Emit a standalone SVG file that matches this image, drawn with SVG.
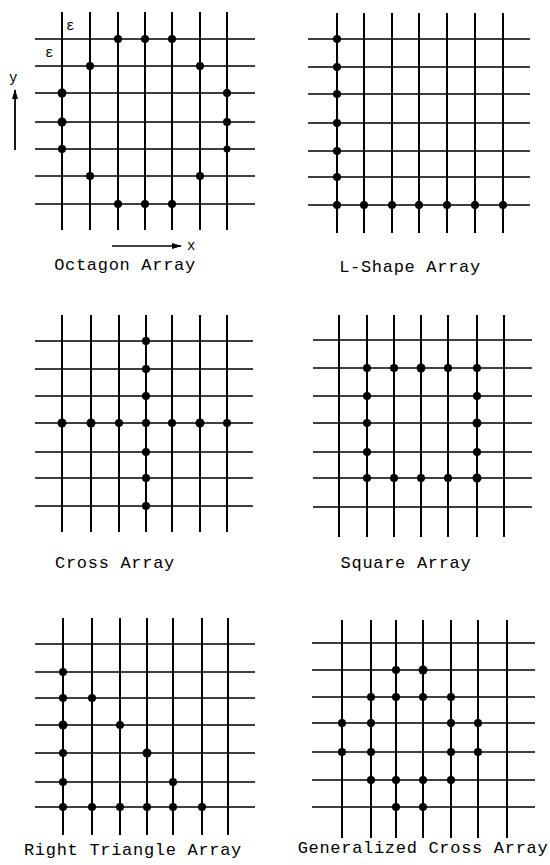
<svg xmlns="http://www.w3.org/2000/svg" width="550" height="865" viewBox="0 0 550 865">
<style>
.v{stroke:#000;stroke-width:2;fill:none}
.h{stroke:#000;stroke-width:1.6;fill:none}
.d{fill:#000}
.lbl{font-family:"Liberation Mono",monospace;font-size:17px;letter-spacing:0.7px;fill:#000;text-anchor:middle}
.sm{font-family:"Liberation Mono",monospace;font-size:14px;fill:#000}
</style>
<defs>
<marker id="ah" viewBox="0 0 10 6" refX="9" refY="3" markerWidth="10" markerHeight="6" markerUnits="userSpaceOnUse" orient="auto">
<path d="M0,0 L10,3 L0,6 z" fill="#000"/>
</marker>
</defs>
<rect width="550" height="865" fill="#fff"/>

<g id="octagon">
<path class="v" d="M62,12V230M90,12V230M118,12V230M145,12V230M172,12V230M200,12V230M227,12V230"/>
<path class="h" d="M35,39H255M35,66H255M35,93H255M35,122H255M35,149H255M35,176H255M35,204H255"/>
<g class="d">
<circle cx="118" cy="39" r="4"/><circle cx="145" cy="39" r="4"/><circle cx="172" cy="39" r="4"/>
<circle cx="90" cy="66" r="4"/><circle cx="200" cy="66" r="4"/>
<circle cx="62" cy="93" r="4.5"/><circle cx="227" cy="93" r="4"/>
<circle cx="62" cy="122" r="4.5"/><circle cx="227" cy="122" r="4"/>
<circle cx="62" cy="149" r="4"/><circle cx="227" cy="149" r="3.5"/>
<circle cx="90" cy="176" r="4"/><circle cx="200" cy="176" r="4"/>
<circle cx="118" cy="204" r="4"/><circle cx="145" cy="204" r="4"/><circle cx="172" cy="204" r="4"/>
</g>
<text class="sm" x="66" y="30">ε</text>
<text class="sm" x="45" y="57">ε</text>
<text class="sm" x="9" y="82">y</text>
<text class="sm" x="187" y="250">x</text>
<text class="lbl" x="125" y="270">Octagon Array</text>
</g>

<g id="lshape">
<path class="v" d="M337,13V233M364,13V233M392,13V233M419,13V233M447,13V233M475,13V233M503,13V233"/>
<path class="h" d="M308,39H530M308,67H530M308,94H530M308,123H530M308,151H530M308,177H530M308,205H530"/>
<g class="d">
<circle cx="337" cy="39" r="4"/><circle cx="337" cy="67" r="4"/><circle cx="337" cy="94" r="4"/>
<circle cx="337" cy="123" r="4"/><circle cx="337" cy="151" r="4"/><circle cx="337" cy="177" r="4"/>
<circle cx="337" cy="205" r="4"/><circle cx="364" cy="205" r="4"/><circle cx="392" cy="205" r="4"/>
<circle cx="419" cy="205" r="4"/><circle cx="447" cy="205" r="4"/><circle cx="475" cy="205" r="4"/>
<circle cx="503" cy="205" r="4"/>
</g>
<text class="lbl" x="410" y="272">L-Shape Array</text>
</g>

<g id="cross">
<path class="v" d="M62,315V532M91,315V532M119,315V532M146,315V532M172,315V532M200,315V532M227,315V532"/>
<path class="h" d="M35,341H253M35,369H253M35,396H253M35,423H253M35,452H253M35,478H253M35,506H253"/>
<g class="d">
<circle cx="146" cy="341" r="4"/><circle cx="146" cy="369" r="4"/><circle cx="146" cy="396" r="4"/>
<circle cx="146" cy="423" r="4"/><circle cx="146" cy="452" r="4"/><circle cx="146" cy="478" r="4"/>
<circle cx="146" cy="506" r="4"/>
<circle cx="62" cy="423" r="4.5"/><circle cx="91" cy="423" r="4.5"/><circle cx="119" cy="423" r="4"/>
<circle cx="172" cy="423" r="4"/><circle cx="200" cy="423" r="4.5"/><circle cx="227" cy="423" r="4"/>
</g>
<text class="lbl" x="115" y="568">Cross Array</text>
</g>

<g id="square">
<path class="v" d="M339,315V537M367,315V537M394,315V537M421,315V537M448,315V537M477,315V537M504,315V537"/>
<path class="h" d="M313,340H532M313,368H532M313,396H532M313,423H532M313,452H532M313,478H532M313,507H532"/>
<g class="d">
<circle cx="367" cy="368" r="4"/><circle cx="394" cy="368" r="4"/><circle cx="421" cy="368" r="4.5"/>
<circle cx="448" cy="368" r="4"/><circle cx="477" cy="368" r="4"/>
<circle cx="367" cy="396" r="4"/><circle cx="477" cy="396" r="4"/>
<circle cx="367" cy="423" r="4"/><circle cx="477" cy="423" r="4.5"/>
<circle cx="367" cy="452" r="4"/><circle cx="477" cy="452" r="4"/>
<circle cx="367" cy="478" r="4"/><circle cx="394" cy="478" r="4"/><circle cx="421" cy="478" r="4"/>
<circle cx="448" cy="478" r="4"/><circle cx="477" cy="478" r="4.5"/>
</g>
<text class="lbl" x="406" y="568">Square Array</text>
</g>

<g id="righttriangle">
<path class="v" d="M63,618V835M92,618V835M120,618V835M147,618V835M173,618V835M202,618V835M228,618V835"/>
<path class="h" d="M35,644H255M35,672H255M35,698H255M35,725H255M35,753H255M35,782H255M35,807H255"/>
<g class="d">
<circle cx="63" cy="672" r="4"/>
<circle cx="63" cy="698" r="4"/><circle cx="92" cy="698" r="4"/>
<circle cx="63" cy="725" r="4.5"/><circle cx="120" cy="725" r="4"/>
<circle cx="63" cy="753" r="4"/><circle cx="147" cy="753" r="4.5"/>
<circle cx="63" cy="782" r="4"/><circle cx="173" cy="782" r="4"/>
<circle cx="63" cy="807" r="4"/><circle cx="92" cy="807" r="4"/><circle cx="120" cy="807" r="4"/>
<circle cx="147" cy="807" r="4"/><circle cx="173" cy="807" r="4"/><circle cx="202" cy="807" r="4"/>
</g>
<text class="lbl" x="133" y="855">Right Triangle Array</text>
</g>

<g id="generalizedcross">
<path class="v" d="M342,620V838M371,620V838M396,620V838M423,620V838M451,620V838M478,620V838M507,620V838"/>
<path class="h" d="M312,643H535M312,670H535M312,697H535M312,723H535M312,752H535M312,780H535M312,807H535"/>
<g class="d">
<circle cx="396" cy="670" r="4"/><circle cx="423" cy="670" r="4.5"/>
<circle cx="371" cy="697" r="4"/><circle cx="396" cy="697" r="4"/><circle cx="423" cy="697" r="4"/><circle cx="451" cy="697" r="4"/>
<circle cx="342" cy="723" r="4"/><circle cx="371" cy="723" r="4"/><circle cx="451" cy="723" r="4"/><circle cx="478" cy="723" r="4"/>
<circle cx="342" cy="752" r="4"/><circle cx="371" cy="752" r="4"/><circle cx="451" cy="752" r="4"/><circle cx="478" cy="752" r="4"/>
<circle cx="371" cy="780" r="4"/><circle cx="396" cy="780" r="4"/><circle cx="423" cy="780" r="4"/><circle cx="451" cy="780" r="4"/>
<circle cx="396" cy="807" r="4"/><circle cx="423" cy="807" r="4"/>
</g>
<text class="lbl" x="423" y="853">Generalized Cross Array</text>
</g>

<g id="connectors">
<line x1="15" y1="150" x2="15" y2="90" stroke="#000" stroke-width="1.8" marker-end="url(#ah)"/>
<line x1="112" y1="246" x2="181" y2="246" stroke="#000" stroke-width="1.6" marker-end="url(#ah)"/>
</g>
</svg>
